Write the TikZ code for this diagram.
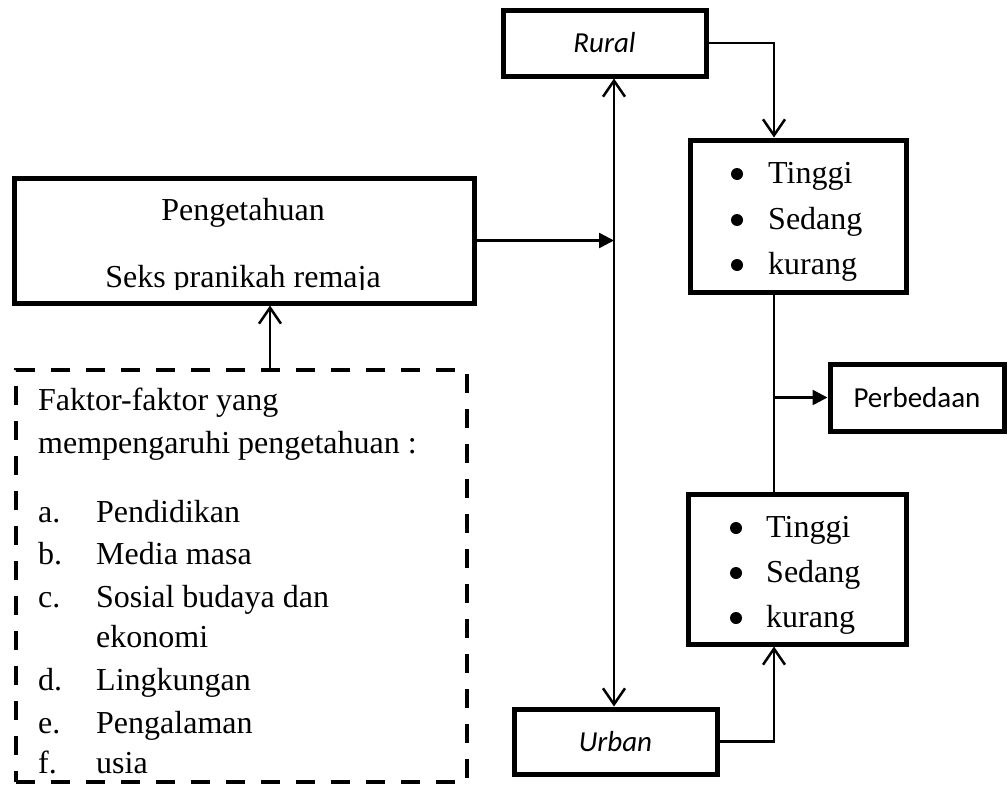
\documentclass[tikz,border=0pt]{standalone}
\usepackage{fontspec}
\setmainfont{Liberation Serif}
\newfontfamily\calfont{Carlito}
\usetikzlibrary{arrows.meta}
\begin{document}
\begin{tikzpicture}[x=1pt,y=-1pt,
  box/.style={draw, line width=5pt, inner sep=0pt},
  dbox/.style={draw, line width=4.5pt, inner sep=0pt, dash pattern=on 19pt off 16pt},
  tx/.style={font=\fontsize{32}{32}\selectfont, inner sep=0pt, anchor=base west},
  sn/.style={font=\calfont\fontsize{29}{29}\selectfont},
  dot/.style={circle, fill=black, draw=none, minimum size=12pt, inner sep=0pt},
  conn/.style={line width=2.5pt},
  thinline/.style={line width=1.6pt},
  openhead/.style={-{Straight Barb[length=16pt,width=22pt]}},
  filledhead/.style={-{Triangle[length=15pt,width=15pt]}}]
\useasboundingbox (0,0) rectangle (1008,787);
% main box
\node[box, minimum width=460pt, minimum height=125pt] (peng) at (244,240.5) {};
\node[tx, anchor=base] (pt1) at (243,220) {Pengetahuan};
\begin{scope}
\clip (0,0) rectangle (1008,289);
\node[tx, anchor=base] (pt2) at (243,287) {Seks pranikah remaja};
\end{scope}
% dashed box
\node[dbox, minimum width=451pt, minimum height=412pt] (fak) at (241.5,576) {};
\node[tx] (f1) at (38,410) {Faktor-faktor yang};
\node[tx] (f2) at (38,453) {mempengaruhi pengetahuan :};
\node[tx] (la) at (38,522) {a.};
\node[tx] (ia) at (96,522) {Pendidikan};
\node[tx] (lb) at (38,564) {b.};
\node[tx] (ib) at (96,564) {Media masa};
\node[tx] (lc) at (38,607) {c.};
\node[tx] (ic) at (96,607) {Sosial budaya dan};
\node[tx] (ic2) at (96,647) {ekonomi};
\node[tx] (ld) at (38,690) {d.};
\node[tx] (id) at (96,690) {Lingkungan};
\node[tx] (le) at (38,733) {e.};
\node[tx] (ie) at (96,733) {Pengalaman};
\node[tx] (lf) at (38,773) {f.};
\node[tx] (if) at (96,773) {usia};
% rural / urban
\node[box, sn, minimum width=203pt, minimum height=66pt] (rural) at (604.5,43) {\itshape Rural};
\node[box, sn, minimum width=203pt, minimum height=65pt] (urban) at (615.5,741.5) {\itshape Urban};
% bullet boxes
\node[box, minimum width=216pt, minimum height=152pt] (top) at (798,216) {};
\node[dot] (tb1) at (737,174) {};
\node[tx] (tt1) at (768,183) {Tinggi};
\node[dot] (tb2) at (737,220) {};
\node[tx] (tt2) at (768,229) {Sedang};
\node[dot] (tb3) at (737,265) {};
\node[tx] (tt3) at (768,274) {kurang};
\node[box, minimum width=218pt, minimum height=150pt] (bot) at (797,569) {};
\node[dot] (bb1) at (736,528) {};
\node[tx] (bt1) at (766,537) {Tinggi};
\node[dot] (bb2) at (736,573) {};
\node[tx] (bt2) at (766,582) {Sedang};
\node[dot] (bb3) at (736,618) {};
\node[tx] (bt3) at (766,627) {kurang};
% perbedaan
\node[box, sn, minimum width=174pt, minimum height=67pt] (perb) at (917,397.5) {Perbedaan};
% connectors
\coordinate (vx) at (614,0);
\coordinate (cx) at (774,0);
\coordinate (ax) at (270,0);
\draw[conn, {Straight Barb[length=16pt,width=22pt]}-{Straight Barb[length=16pt,width=22pt]}] (vx |- rural.south) -- (vx |- urban.north);
\draw[conn, filledhead] (peng.east) -- (peng.east -| vx);
\draw[conn, openhead] (rural.east) -| (cx |- top.north);
\draw[thinline] (cx |- top.south) -- (cx |- bot.north);
\draw[conn, filledhead] (cx |- perb.west) -- (perb.west);
\draw[conn, openhead] (urban.east) -| (cx |- bot.south);
\draw[conn, openhead] (ax |- fak.north) -- (ax |- peng.south);
\end{tikzpicture}
\end{document}
